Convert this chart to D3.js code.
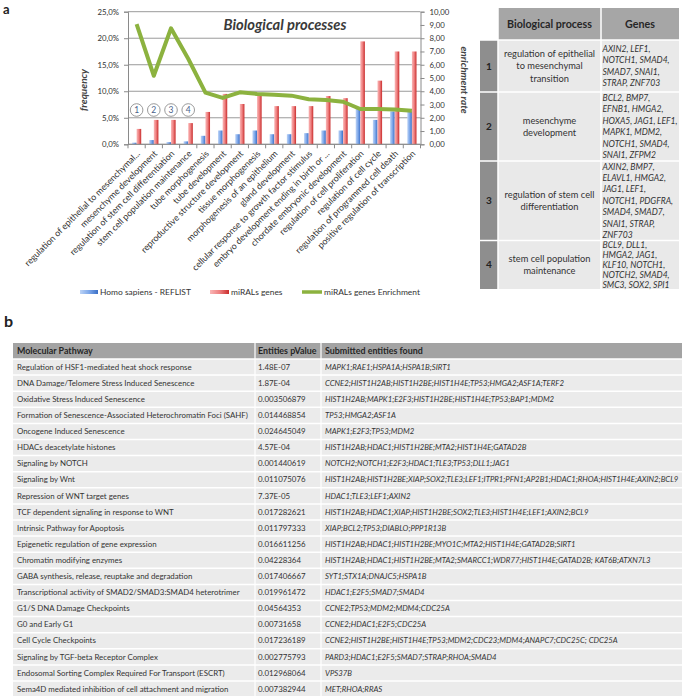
<!DOCTYPE html>
<html><head><meta charset="utf-8">
<script src="https://cdn.jsdelivr.net/npm/d3@7"></script>
<style>
body{margin:0;background:#fff}
svg{display:block}
text{font-family:Lato,"Liberation Sans",sans-serif;fill:#333}
</style></head>
<body><svg id="fig" width="685" height="696"></svg>
<script>
// ---------- DATA ----------
const categories = [
  "regulation of epithelial to mesenchymal...",
  "mesenchyme development",
  "regulation of stem cell differentiation",
  "stem cell population maintenance",
  "tube morphogenesis",
  "tube development",
  "reproductive structure development",
  "tissue morphogenesis",
  "morphogenesis of an epithelium",
  "gland development",
  "cellular response to growth factor stimulus",
  "embryo development ending in birth or ...",
  "chordate embryonic development",
  "regulation of cell proliferation",
  "regulation of cell cycle",
  "regulation of programmed cell death",
  "positive regulation of transcription"
];
const refFreq   = [0.3, 0.8, 0.4, 0.55, 1.6, 2.6, 1.9, 2.6, 1.9, 1.9, 2.1, 2.6, 2.6, 6.8, 4.6, 6.2, 6.2];
const miralFreq = [2.9, 4.6, 4.6, 4.0, 6.1, 9.5, 7.6, 9.3, 7.2, 7.2, 7.2, 9.1, 8.7, 19.4, 12.0, 17.5, 17.5];
const enrichment = [9.07, 5.17, 8.75, 6.45, 3.9, 3.5, 3.92, 3.8, 3.74, 3.67, 3.4, 3.34, 3.21, 2.66, 2.66, 2.63, 2.53];
const leftTicks = [0, 5, 10, 15, 20, 25];
const rightTicks = [0, 1, 2, 3, 4, 5, 6, 7, 8, 9, 10];
const circledCount = 4;
const seriesNames = ["Homo sapiens - REFLIST", "miRALs genes", "miRALs genes Enrichment"];
const chartTitle = "Biological processes";

const processHeader = ["Biological process", "Genes"];
const processNumbers = ["1", "2", "3", "4"];
const processNameLines = [
  ["regulation of epithelial", "to mesenchymal", "transition"],
  ["mesenchyme", "development"],
  ["regulation of stem cell", "differentiation"],
  ["stem cell population", "maintenance"]
];
const processGeneLines = [
  ["AXIN2, LEF1,", "NOTCH1, SMAD4,", "SMAD7, SNAI1,", "STRAP, ZNF703"],
  ["BCL2, BMP7,", "EFNB1,  HMGA2,", "HOXA5, JAG1, LEF1,", "MAPK1, MDM2,", "NOTCH1, SMAD4,", "SNAI1, ZFPM2"],
  ["AXIN2, BMP7,", "ELAVL1, HMGA2,", "JAG1, LEF1,", "NOTCH1, PDGFRA,", "SMAD4, SMAD7,", "SNAI1, STRAP,", "ZNF703"],
  ["BCL9, DLL1,", "HMGA2, JAG1,", "KLF10, NOTCH1,", "NOTCH2, SMAD4,", "SMC3, SOX2, SPI1"]
];

const pathwayHeader = ["Molecular  Pathway", "Entities pValue", "Submitted entities found"];
const pathwayNames = [
  "Regulation of HSF1-mediated heat shock response",
  "DNA Damage/Telomere Stress Induced Senescence",
  "Oxidative Stress Induced Senescence",
  "Formation of Senescence-Associated Heterochromatin Foci (SAHF)",
  "Oncogene Induced Senescence",
  "HDACs deacetylate histones",
  "Signaling by NOTCH",
  "Signaling by Wnt",
  "Repression of WNT target genes",
  "TCF dependent  signaling in response to WNT",
  "Intrinsic Pathway for Apoptosis",
  "Epigenetic regulation of gene expression",
  "Chromatin modifying enzymes",
  "GABA synthesis, release, reuptake and degradation",
  "Transcriptional activity of SMAD2/SMAD3:SMAD4 heterotrimer",
  "G1/S DNA Damage Checkpoints",
  "G0 and Early G1",
  "Cell Cycle Checkpoints",
  "Signaling by TGF-beta Receptor Complex",
  "Endosomal Sorting Complex  Required For Transport (ESCRT)",
  "Sema4D mediated inhibition of cell attachment and migration"
];
const pathwayPValues = [
  "1.48E-07", "1.87E-04", "0.003506879", "0.014468854", "0.024645049", "4.57E-04",
  "0.001440619", "0.011075076", "7.37E-05", "0.017282621", "0.011797333", "0.016611256",
  "0.04228364", "0.017406667", "0.019961472", "0.04564353", "0.00731658", "0.017236189",
  "0.002775793", "0.012968064", "0.007382944"
];
const pathwayEntities = [
  "MAPK1;RAE1;HSPA1A;HSPA1B;SIRT1",
  "CCNE2;HIST1H2AB;HIST1H2BE;HIST1H4E;TP53;HMGA2;ASF1A;TERF2",
  "HIST1H2AB;MAPK1;E2F3;HIST1H2BE;HIST1H4E;TP53;BAP1;MDM2",
  "TP53;HMGA2;ASF1A",
  "MAPK1;E2F3;TP53;MDM2",
  "HIST1H2AB;HDAC1;HIST1H2BE;MTA2;HIST1H4E;GATAD2B",
  "NOTCH2;NOTCH1;E2F3;HDAC1;TLE3;TP53;DLL1;JAG1",
  "HIST1H2AB;HIST1H2BE;XIAP;SOX2;TLE3;LEF1;ITPR1;PFN1;AP2B1;HDAC1;RHOA;HIST1H4E;AXIN2;BCL9",
  "HDAC1;TLE3;LEF1;AXIN2",
  "HIST1H2AB;HDAC1;XIAP;HIST1H2BE;SOX2;TLE3;HIST1H4E;LEF1;AXIN2;BCL9",
  "XIAP;BCL2;TP53;DIABLO;PPP1R13B",
  "HIST1H2AB;HDAC1;HIST1H2BE;MYO1C;MTA2;HIST1H4E;GATAD2B;SIRT1",
  "HIST1H2AB;HDAC1;HIST1H2BE;MTA2;SMARCC1;WDR77;HIST1H4E;GATAD2B; KAT6B;ATXN7L3",
  "SYT1;STX1A;DNAJC5;HSPA1B",
  "HDAC1;E2F5;SMAD7;SMAD4",
  "CCNE2;TP53;MDM2;MDM4;CDC25A",
  "CCNE2;HDAC1;E2F5;CDC25A",
  "CCNE2;HIST1H2BE;HIST1H4E;TP53;MDM2;CDC23;MDM4;ANAPC7;CDC25C;  CDC25A",
  "PARD3;HDAC1;E2F5;SMAD7;STRAP;RHOA;SMAD4",
  "VPS37B",
  "MET;RHOA;RRAS"
];

// ---------- HELPERS ----------
const svg = d3.select("#fig");
const probe = svg.append("text").attr("x",-1000).attr("y",-1000);
function fitSize(txt, target, weight, style){
  probe.style("font-size","10px").style("font-weight",weight||"normal").style("font-style",style||"normal").text(txt);
  const w = probe.node().getComputedTextLength();
  return (10*target/w).toFixed(2)+"px";
}

const defs = svg.append("defs");
function grad(id, stops){
  const g = defs.append("linearGradient").attr("id", id).attr("x1","0").attr("x2","1").attr("y1","0").attr("y2","0");
  stops.forEach(s => g.append("stop").attr("offset", s[0]).attr("stop-color", s[1]));
}
grad("gBlue", [[0,"#bcd3f6"],[0.5,"#7ea8ea"],[1,"#3a6fc6"]]);
grad("gRed",  [[0,"#fab6b6"],[0.5,"#ee8080"],[1,"#c92c2c"]]);

svg.append("text").attr("x",3).attr("y",14).style("font-size","13px").style("font-weight","bold").style("fill","#222").text("a");
svg.append("text").attr("x",4).attr("y",327).style("font-size","16px").style("font-weight","bold").style("fill","#222").text("b");

// ---------- CHART ----------
const P = {left:128, right:420.5, top:11.7, bottom:144.3};
const x = d3.scaleBand().domain(categories).range([P.left, P.right]);
const yL = d3.scaleLinear().domain([0,25]).range([P.bottom, P.top]);
const yR = d3.scaleLinear().domain([0,10]).range([P.bottom, P.top]);
const chart = svg.append("g");

chart.selectAll("line.grid").data(leftTicks).join("line")
  .attr("x1",P.left).attr("x2",P.right).attr("y1",d=>yL(d)).attr("y2",d=>yL(d))
  .attr("stroke","#9a9a9a").attr("stroke-width",1);

chart.append("text").attr("x",285).attr("y",30).attr("text-anchor","middle")
  .style("font-size",fitSize(chartTitle,123,"bold","italic")).style("font-weight","bold").style("font-style","italic").style("fill","#3a3a3a")
  .text(chartTitle);

const bw = 4.6;
chart.selectAll("rect.ref").data(refFreq).join("rect")
  .attr("x",(d,i)=>x(categories[i]) + x.bandwidth()/2 - bw)
  .attr("y",d=>yL(d)).attr("width",bw).attr("height",d=>P.bottom - yL(d))
  .attr("fill","url(#gBlue)");
chart.selectAll("rect.mir").data(miralFreq).join("rect")
  .attr("x",(d,i)=>x(categories[i]) + x.bandwidth()/2)
  .attr("y",d=>yL(d)).attr("width",bw).attr("height",d=>P.bottom - yL(d))
  .attr("fill","url(#gRed)");

const tickSize = fitSize("25,0%", 21.6);
function styleAxis(g){
  g.select(".domain").attr("stroke","#8a8a8a");
  g.selectAll(".tick line").attr("stroke","#8a8a8a");
  g.selectAll(".tick text").style("font-size",tickSize).style("fill","#333").style("font-family","Lato, sans-serif");
}
chart.append("g").attr("transform",`translate(${P.left},0)`)
  .call(d3.axisLeft(yL).tickValues(leftTicks).tickSizeOuter(0).tickSize(4).tickPadding(5)
    .tickFormat(d=>d.toFixed(1).replace(".",",")+"%")).call(styleAxis);
chart.append("g").attr("transform",`translate(${P.right},0)`)
  .call(d3.axisRight(yR).tickValues(rightTicks).tickSizeOuter(0).tickSize(4).tickPadding(5)
    .tickFormat(d=>d.toFixed(2).replace(".",","))).call(styleAxis);
chart.append("line").attr("x1",P.left).attr("x2",P.right).attr("y1",P.bottom).attr("y2",P.bottom).attr("stroke","#8a8a8a");
chart.selectAll("line.xt").data(d3.range(categories.length+1)).join("line")
  .attr("x1",i=>P.left + i*x.step()).attr("x2",i=>P.left + i*x.step())
  .attr("y1",P.bottom).attr("y2",P.bottom+4).attr("stroke","#8a8a8a");

const catSize = fitSize(categories[0], 159);
chart.selectAll("text.cat").data(categories).join("text")
  .attr("transform",d=>`translate(${x(d)+x.bandwidth()/2+4},${P.bottom+10}) rotate(-45)`)
  .attr("text-anchor","end")
  .style("font-size",catSize).style("fill","#333")
  .text(d=>d);

const line = d3.line().x((d,i)=>x(categories[i])+x.bandwidth()/2).y(d=>yR(d));
chart.append("path").datum(enrichment).attr("d",line)
  .attr("fill","none").attr("stroke","#8cb23f").attr("stroke-width",4).attr("stroke-linejoin","round");

const circ = chart.selectAll("g.circ").data(categories.slice(0,circledCount)).join("g")
  .attr("transform",d=>`translate(${x(d)+x.bandwidth()/2},110)`);
circ.append("circle").attr("r",6.3).attr("fill","#fff").attr("stroke","#8f8f8f").attr("stroke-width",0.9);
circ.append("text").attr("text-anchor","middle").attr("dy","0.35em")
  .style("font-size","8.5px").style("fill","#4a5f8a").text((d,i)=>i+1);

chart.append("text").attr("transform","translate(87,90) rotate(-90)").attr("text-anchor","middle")
  .style("font-size","10px").style("font-style","italic").style("font-weight","bold").style("fill","#444").text("frequency");
chart.append("text").attr("transform","translate(461,80) rotate(90)").attr("text-anchor","middle")
  .style("font-size","10px").style("font-style","italic").style("font-weight","bold").style("fill","#444").text("enrichment rate");

const legSize = fitSize(seriesNames[0], 91);
const legend = [
  {x:80, w:18, fill:"url(#gBlue)", h:4},
  {x:210, w:19, fill:"url(#gRed)", h:4},
  {x:302, w:20, fill:"#8cb23f", h:3.5}
];
legend.forEach((l,i)=>{
  chart.append("rect").attr("x",l.x).attr("y",292-l.h/2).attr("width",l.w).attr("height",l.h).attr("fill",l.fill);
  chart.append("text").attr("x",l.x+l.w+2).attr("y",292).attr("dy","0.35em")
    .style("font-size",legSize).text(seriesNames[i]);
});

// ---------- TABLE a ----------
const TA = {xNum:480, xProc:498, xGenes:601, xEnd:679, yHead:8, yBody:40};
const rowH = [52, 69, 79.5, 48.5];
const ta = svg.append("g");
const hdrFill = "#a6a6a6", numFill = "#8e8e8e", cellFill = "#e9e9e9";
const procSize = fitSize("regulation of epithelial", 91);
const geneSize = fitSize("HOXA5, JAG1, LEF1,", 75, "normal", "italic");
const headSize = fitSize(processHeader[0], 85, "bold");
ta.append("rect").attr("x",TA.xProc).attr("y",TA.yHead).attr("width",TA.xGenes-TA.xProc).attr("height",TA.yBody-TA.yHead).attr("fill",hdrFill);
ta.append("rect").attr("x",TA.xGenes).attr("y",TA.yHead).attr("width",TA.xEnd-TA.xGenes).attr("height",TA.yBody-TA.yHead).attr("fill",hdrFill);
[[ (TA.xProc+TA.xGenes)/2, processHeader[0]], [(TA.xGenes+TA.xEnd)/2, processHeader[1]]].forEach(h=>{
  ta.append("text").attr("x",h[0]).attr("y",(TA.yHead+TA.yBody)/2).attr("dy","0.35em").attr("text-anchor","middle")
    .style("font-size",headSize).style("font-weight","bold").style("fill","#262626").text(h[1]);
});
let yy = TA.yBody;
processNumbers.forEach((n,i)=>{
  const h = rowH[i];
  ta.append("rect").attr("x",TA.xNum).attr("y",yy).attr("width",TA.xProc-TA.xNum).attr("height",h).attr("fill",numFill);
  ta.append("rect").attr("x",TA.xProc).attr("y",yy).attr("width",TA.xGenes-TA.xProc).attr("height",h).attr("fill",cellFill);
  ta.append("rect").attr("x",TA.xGenes).attr("y",yy).attr("width",TA.xEnd-TA.xGenes).attr("height",h).attr("fill",cellFill);
  const cy = yy + h/2;
  ta.append("text").attr("x",(TA.xNum+TA.xProc)/2).attr("y",cy).attr("dy","0.35em").attr("text-anchor","middle")
    .style("font-size","10px").style("font-weight","bold").style("fill","#222").text(n);
  const pl = processNameLines[i], ps = 12.3;
  pl.forEach((t,j)=>{
    ta.append("text").attr("x",(TA.xProc+TA.xGenes)/2).attr("y",cy-(pl.length-1)*ps/2+j*ps).attr("dy","0.35em")
      .attr("text-anchor","middle").style("font-size",procSize).style("fill","#333").text(t);
  });
  const gl = processGeneLines[i], gs = Math.min(11.4, (h+2)/gl.length);
  gl.forEach((t,j)=>{
    ta.append("text").attr("x",TA.xGenes+1.5).attr("y",cy-(gl.length-1)*gs/2+j*gs).attr("dy","0.35em")
      .style("font-size",geneSize).style("font-style","italic").style("fill","#333").text(t);
  });
  yy += h;
});
let ys = [TA.yBody]; rowH.reduce((a,h)=>{ys.push(a+h); return a+h;}, TA.yBody);
ys.slice(0,-1).forEach(v=>ta.append("line").attr("x1",TA.xNum).attr("x2",TA.xEnd).attr("y1",v).attr("y2",v).attr("stroke","#fff").attr("stroke-width",1.5));
[TA.xProc, TA.xGenes].forEach(v=>ta.append("line").attr("x1",v).attr("x2",v).attr("y1",TA.yHead).attr("y2",ys[ys.length-1]).attr("stroke","#fff").attr("stroke-width",1.5));

// ---------- TABLE b ----------
const TB = {x0:13, x1:255, x2:321, x3:682, yHead:343, yBody:359};
const rowScale = d3.scaleBand().domain(d3.range(pathwayNames.length)).range([TB.yBody, TB.yBody + 16.1*pathwayNames.length]);
const tb = svg.append("g");
const nameSize = fitSize(pathwayNames[3], 231);
const entSize = fitSize(pathwayEntities[7], 354, "normal", "italic");
const hdrSize = fitSize(pathwayHeader[0], 76, "bold");
tb.append("rect").attr("x",TB.x0).attr("y",TB.yHead).attr("width",TB.x3-TB.x0).attr("height",TB.yBody-TB.yHead).attr("fill","#a3a3a3");
const hx = [TB.x0+4, TB.x1+3, TB.x2+4];
pathwayHeader.forEach((t,i)=>tb.append("text").attr("x",hx[i]).attr("y",(TB.yHead+TB.yBody)/2).attr("dy","0.35em")
  .style("font-size",hdrSize).style("font-weight","bold").style("fill","#262626").text(t));
const rows = tb.selectAll("g.row").data(pathwayNames).join("g").attr("transform",(d,i)=>`translate(0,${rowScale(i)})`);
rows.append("rect").attr("x",TB.x0).attr("y",0).attr("width",TB.x3-TB.x0).attr("height",rowScale.bandwidth()).attr("fill","#ebebeb");
rows.append("line").attr("x1",TB.x0).attr("x2",TB.x3).attr("y1",0).attr("y2",0).attr("stroke","#fff").attr("stroke-width",1.5);
const ry = rowScale.bandwidth()/2;
rows.append("text").attr("x",hx[0]).attr("y",ry).attr("dy","0.35em").style("font-size",nameSize).text(d=>d);
rows.append("text").attr("x",hx[1]).attr("y",ry).attr("dy","0.35em").style("font-size",nameSize).text((d,i)=>pathwayPValues[i]);
rows.append("text").attr("x",hx[2]).attr("y",ry).attr("dy","0.35em").style("font-size",entSize).style("font-style","italic").text((d,i)=>pathwayEntities[i]);
[TB.x1, TB.x2].forEach(v=>tb.append("line").attr("x1",v).attr("x2",v).attr("y1",TB.yHead).attr("y2",TB.yBody+16.1*pathwayNames.length).attr("stroke","#fff").attr("stroke-width",1.2));
probe.remove();
</script></body></html>
